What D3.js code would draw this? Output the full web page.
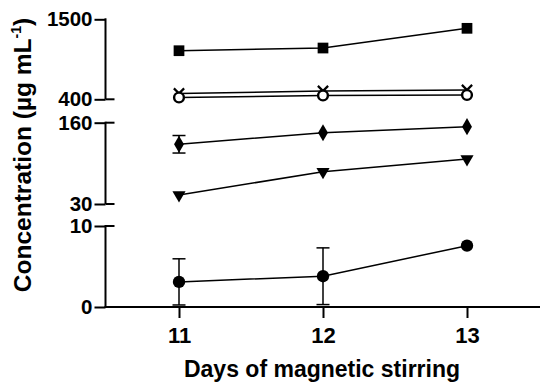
<!DOCTYPE html>
<html>
<head>
<meta charset="utf-8">
<script src="https://cdn.jsdelivr.net/npm/d3@7"></script>
<style>
  body { margin: 0; background: #fff; }
  text { font-family: "Liberation Sans", Arial, sans-serif; font-weight: bold; fill: #000; }
</style>
</head>
<body>
<div id="chart-area"></div>
<script>
const days = [11, 12, 13]

// values (µg/mL)
const squareVals = [1068, 1105, 1376]
const crossVals = [480, 514, 528]
const ringVals = [425, 452, 459]
const diamondVals = [125.5, 144, 153.6]
const diamondErr = [14, 0, 0]
const triangleVals = [44.4, 81.6, 102]
const dotVals = [3.1, 3.8, 7.57]
const dotErr = [2.85, 3.5, 0]

// axis segments of the broken y axis
const segDomains = [[0, 10], [30, 160], [400, 1500]]
const segRanges = [[307, 226], [204, 122.7], [99.3, 19.3]]

const W = 550, H = 392
const AXIS_X = 105.5

const svg = d3.select("#chart-area").append("svg")
  .attr("width", W)
  .attr("height", H)

const x = d3.scaleLinear()
  .domain([10.5, 13.5])
  .range([107, 539])

const ys = segDomains.map((d, i) => d3.scaleLinear().domain(d).range(segRanges[i]))
const yLow = ys[0], yMid = ys[1], yTop = ys[2]

// Y axis segments
ys.forEach((s, i) => {
  const g = svg.append("g").attr("transform", `translate(${AXIS_X},0)`)
  g.call(d3.axisLeft(s).tickValues(s.domain()).tickSize(11).tickSizeOuter(0).tickFormat(d3.format("d")))
  g.attr("font-size", null).attr("font-family", null)
  g.select(".domain").remove()
  g.selectAll(".tick line").attr("stroke", "#000").attr("stroke-width", 2)
  g.selectAll(".tick text").style("font-size", "20.5px").attr("x", -13)
  g.append("line")
    .attr("x1", 0).attr("x2", 0)
    .attr("y1", s.range()[0]).attr("y2", s.range()[1] - 1)
    .attr("stroke", "#000").attr("stroke-width", 2)
  // break caps to the right of the axis
  const caps = i === 0 ? [s.domain()[1]] : (i === 2 ? [s.domain()[0]] : s.domain())
  g.selectAll(".cap").data(caps).enter().append("line")
    .attr("x1", 0).attr("x2", 9)
    .attr("y1", d => s(d)).attr("y2", d => s(d))
    .attr("stroke", "#000").attr("stroke-width", 2)
})

// X axis
const xg = svg.append("g").attr("transform", `translate(0,${yLow(0)})`)
xg.call(d3.axisBottom(x).tickValues(days).tickSize(11).tickSizeOuter(0).tickFormat(d3.format("d")))
xg.attr("font-size", null).attr("font-family", null)
xg.select(".domain").remove()
xg.append("line")
  .attr("x1", AXIS_X - 1).attr("x2", 540)
  .attr("stroke", "#000").attr("stroke-width", 2)
xg.selectAll(".tick line").attr("stroke", "#000").attr("stroke-width", 2)
xg.selectAll(".tick text").style("font-size", "22px").attr("y", 20)

// Axis titles
svg.append("text")
  .attr("x", 322)
  .attr("y", 377)
  .attr("text-anchor", "middle")
  .style("font-size", "23px")
  .text("Days of magnetic stirring")

const yLabel = svg.append("text")
  .attr("transform", "translate(31,155) rotate(-90)")
  .attr("text-anchor", "middle")
  .style("font-size", "24.5px")
yLabel.append("tspan").text("Concentration (µg mL")
yLabel.append("tspan").attr("dy", -10).style("font-size", "14px").text("-1")
yLabel.append("tspan").attr("dy", 10).text(")")

const series = [
  { vals: squareVals, y: yTop, sym: d3.symbolSquare, size: 115, fill: "#000" },
  { vals: crossVals, y: yTop, sym: d3.symbolX, size: 70, fill: "none", stroke: 2.2 },
  { vals: ringVals, y: yTop, sym: d3.symbolCircle, size: 75, fill: "#fff", stroke: 2.4 },
  { vals: diamondVals, err: diamondErr, y: yMid, sym: d3.symbolDiamond, size: 85, fill: "#000" },
  { vals: triangleVals, y: yMid, sym: d3.symbolTriangle, size: 75, fill: "#000", rotate: 180 },
  { vals: dotVals, err: dotErr, y: yLow, sym: d3.symbolCircle, size: 120, fill: "#000" }
]

const line = s => d3.line().x((d, i) => x(days[i])).y(d => s.y(d))

series.forEach(s => {
  const g = svg.append("g")
  if (s.err) {
    s.err.forEach((e, i) => {
      if (!e) return
      const cx = x(days[i])
      const lo = s.y(s.vals[i] - e), hi = s.y(s.vals[i] + e)
      g.append("line").attr("x1", cx).attr("x2", cx).attr("y1", lo).attr("y2", hi)
        .attr("stroke", "#000").attr("stroke-width", 1.5)
      ;[lo, hi].forEach(v => g.append("line")
        .attr("x1", cx - 6.5).attr("x2", cx + 6.5).attr("y1", v).attr("y2", v)
        .attr("stroke", "#000").attr("stroke-width", 1.5))
    })
  }
  g.append("path")
    .attr("d", line(s)(s.vals))
    .attr("fill", "none")
    .attr("stroke", "#000")
    .attr("stroke-width", 1.5)
  g.selectAll(".m").data(s.vals).enter().append("path")
    .attr("transform", (d, i) => `translate(${x(days[i])},${s.y(d)}) rotate(${s.rotate || 0})`)
    .attr("d", d3.symbol().type(s.sym).size(s.size))
    .attr("fill", s.fill)
    .attr("stroke", s.stroke ? "#000" : "none")
    .attr("stroke-width", s.stroke || 0)
})
</script>
</body>
</html>
